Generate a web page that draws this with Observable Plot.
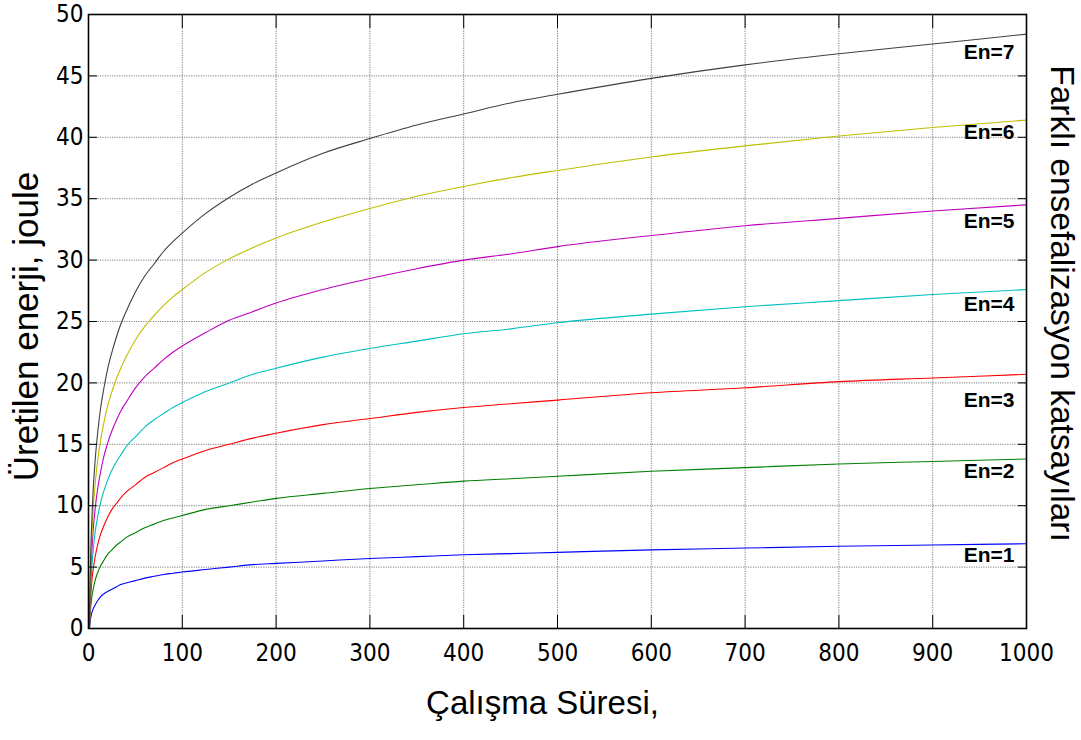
<!DOCTYPE html>
<html>
<head>
<meta charset="utf-8">
<script src="https://cdn.jsdelivr.net/npm/d3@7"></script>
<script src="https://cdn.jsdelivr.net/npm/@observablehq/plot@0.6"></script>
<style>
  body { margin: 0; background: #fff; }
  #chart svg { display: block; }
</style>
</head>
<body>
<div id="chart"></div>
<script>
// Operating time samples (x)
const time = [1, 2, 3, 4, 5, 7, 10, 13, 16, 20, 25, 30, 35, 40, 50, 60, 70, 80, 90, 100, 125, 150, 175, 200, 250, 300, 350, 400, 450, 500, 600, 700, 800, 900, 1000];
// Produced energy (joule) per encephalization coefficient
const en1 = [0, 0.7, 1.1, 1.4, 1.6, 1.9, 2.3, 2.6, 2.8, 3.0, 3.2, 3.4, 3.6, 3.7, 3.9, 4.1, 4.25, 4.4, 4.5, 4.6, 4.8, 5.0, 5.2, 5.3, 5.5, 5.7, 5.85, 6.0, 6.1, 6.2, 6.4, 6.55, 6.7, 6.8, 6.9];
const en2 = [0, 1.4, 2.2, 2.8, 3.2, 3.9, 4.6, 5.1, 5.5, 6.0, 6.4, 6.8, 7.1, 7.4, 7.8, 8.2, 8.5, 8.8, 9.0, 9.2, 9.7, 10.0, 10.3, 10.6, 11.0, 11.4, 11.7, 12.0, 12.2, 12.4, 12.8, 13.1, 13.4, 13.6, 13.8];
const en3 = [0, 2.1, 3.3, 4.2, 4.8, 5.8, 6.9, 7.7, 8.3, 9.0, 9.7, 10.2, 10.7, 11.1, 11.7, 12.3, 12.7, 13.1, 13.5, 13.8, 14.5, 15.0, 15.5, 15.9, 16.6, 17.1, 17.6, 18.0, 18.3, 18.6, 19.2, 19.6, 20.1, 20.4, 20.7];
const en4 = [0, 2.8, 4.4, 5.5, 6.4, 7.8, 9.2, 10.3, 11.1, 12.0, 12.9, 13.6, 14.2, 14.8, 15.6, 16.4, 17.0, 17.5, 18.0, 18.4, 19.3, 20.0, 20.7, 21.2, 22.1, 22.8, 23.4, 24.0, 24.4, 24.9, 25.6, 26.2, 26.7, 27.2, 27.6];
const en5 = [0, 3.5, 5.5, 6.9, 8.0, 9.7, 11.5, 12.8, 13.9, 15.0, 16.1, 17.0, 17.8, 18.4, 19.6, 20.5, 21.2, 21.9, 22.5, 23.0, 24.1, 25.1, 25.8, 26.5, 27.6, 28.5, 29.3, 30.0, 30.5, 31.1, 32.0, 32.8, 33.4, 34.0, 34.5];
const en6 = [0, 4.2, 6.6, 8.3, 9.7, 11.7, 13.8, 15.4, 16.6, 18.0, 19.3, 20.4, 21.3, 22.1, 23.5, 24.6, 25.5, 26.3, 27.0, 27.6, 29.0, 30.1, 31.0, 31.8, 33.1, 34.2, 35.2, 36.0, 36.7, 37.3, 38.4, 39.3, 40.1, 40.8, 41.4];
const en7 = [0, 4.9, 7.7, 9.7, 11.3, 13.6, 16.1, 18.0, 19.4, 21.0, 22.5, 23.8, 24.9, 25.8, 27.4, 28.7, 29.7, 30.7, 31.5, 32.2, 33.8, 35.1, 36.2, 37.1, 38.7, 39.9, 41.0, 41.9, 42.8, 43.5, 44.8, 45.9, 46.8, 47.6, 48.4];

const seriesNames = ["En=1", "En=2", "En=3", "En=4", "En=5", "En=6", "En=7"];
const seriesValues = [en1, en2, en3, en4, en5, en6, en7];
const seriesColors = ["#0000ff", "#008000", "#ff0000", "#00bfbf", "#bf00bf", "#bfbf00", "#404040"];
// Where each in-plot label sits (energy value at the label)
const labelEnergy = [6.0, 12.8, 18.6, 26.4, 33.2, 40.4, 46.9];
const labelTime = 1000;

const xTicks = [0, 100, 200, 300, 400, 500, 600, 700, 800, 900, 1000];
const yTicks = [0, 5, 10, 15, 20, 25, 30, 35, 40, 45, 50];

const xTitle = "Çalışma Süresi,";
const yTitle = "Üretilen enerji, joule";
const rightTitle = "Farklı ensefalizasyon katsayıları";

const rows = seriesNames.flatMap((name, i) =>
  time.map((t, j) => ({ t, v: seriesValues[i][j], name }))
);
const labels = seriesNames.map((name, i) => ({ name, t: labelTime, v: labelEnergy[i] }));

const tickFont = "'Liberation Sans Narrow', 'Arial Narrow', 'DejaVu Sans Condensed', sans-serif";
const textFont = "'Liberation Sans', Arial, sans-serif";
const gridStyle = { stroke: "#707070", strokeOpacity: 1, strokeWidth: 0.9, strokeDasharray: "1.2,1.2" };

const chart = Plot.plot({
  width: 1081,
  height: 740,
  marginLeft: 88,
  marginRight: 55,
  marginTop: 14,
  marginBottom: 112,
  style: { background: "#fff", fontFamily: textFont },
  x: { domain: [0, 1000] },
  y: { domain: [0, 50] },
  color: { domain: seriesNames, range: seriesColors },
  marks: [
    Plot.gridX(xTicks, gridStyle),
    Plot.gridY(yTicks, gridStyle),
    Plot.line(rows, { x: "t", y: "v", z: "name", stroke: "name", strokeWidth: 1.1, curve: "monotone-x" }),
    Plot.text(labels, { x: "t", y: "v", text: "name", textAnchor: "end", dx: -12, fontSize: 21, fontWeight: "bold", fill: "#000", fontFamily: textFont }),
    Plot.axisX(xTicks, { anchor: "bottom", tickSize: -13, tickPadding: 28, fontSize: 24, fontFamily: tickFont, tickFormat: d3.format("d"), label: null, color: "#000" }),
    Plot.axisX(xTicks, { anchor: "top", tickSize: -13, tickFormat: () => "", label: null, color: "#000" }),
    Plot.axisY(yTicks, { anchor: "left", tickSize: -9, tickPadding: 14, fontSize: 24, fontFamily: tickFont, tickFormat: d3.format("d"), label: null, color: "#000" }),
    Plot.axisY(yTicks, { anchor: "right", tickSize: -9, tickFormat: () => "", label: null, color: "#000" }),
    Plot.frame({ stroke: "#000", strokeWidth: 1.6 }),
    Plot.text([xTitle], { frameAnchor: "bottom", textAnchor: "middle", dx: -15, dy: 85, fontSize: 33, fill: "#000", fontFamily: textFont }),
    Plot.text([yTitle], { frameAnchor: "left", textAnchor: "middle", rotate: -90, dx: -62, dy: 5, fontSize: 35, fill: "#000", fontFamily: textFont }),
    Plot.text([rightTitle], { frameAnchor: "right", textAnchor: "middle", rotate: 90, dx: 35, dy: -18, fontSize: 33.5, fill: "#000", fontFamily: textFont })
  ]
});
document.getElementById("chart").appendChild(chart);
</script>
</body>
</html>
